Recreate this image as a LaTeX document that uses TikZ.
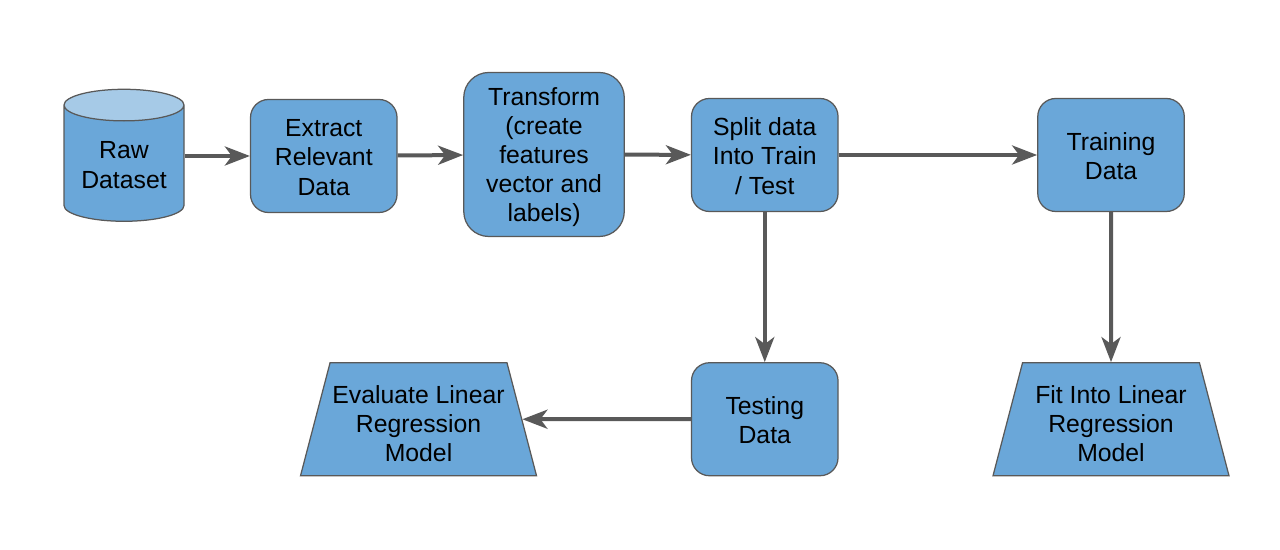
\documentclass[tikz,border=0pt]{standalone}
\usepackage{fontspec}
\setmainfont{Liberation Sans}
\usepackage{xcolor}
\usetikzlibrary{shapes.geometric, arrows.meta, positioning}
\definecolor{boxblue}{HTML}{6AA7D9}
\definecolor{toplight}{HTML}{A6CAE7}
\definecolor{edgegray}{HTML}{595959}
\newcommand{\dropline}[1]{\rule{0pt}{#1pt}}
\tikzset{
  step box/.style={
    rectangle,
    rounded corners=0.36cm,
    draw=edgegray,
    line width=0.025cm,
    fill=boxblue,
    minimum width=2.93cm,
    minimum height=2.26cm,
    inner sep=0pt,
    align=center,
    font=\fontsize{14.1}{16.6}\selectfont
  },
  model box/.style={
    trapezium,
    trapezium left angle=71,
    trapezium right angle=71,
    trapezium stretches body,
    draw=edgegray,
    line width=0.025cm,
    fill=boxblue,
    minimum width=4.72cm,
    minimum height=2.26cm,
    inner sep=0pt,
    align=center,
    font=\fontsize{14.1}{16.6}\selectfont
  },
  data store/.style={
    cylinder,
    shape border rotate=90,
    aspect=0.37,
    cylinder uses custom fill,
    cylinder body fill=boxblue,
    cylinder end fill=toplight,
    draw=edgegray,
    line width=0.025cm,
    minimum width=2.4cm,
    minimum height=2.64cm,
    inner sep=0pt,
    align=center,
    font=\fontsize{14.1}{16.6}\selectfont
  },
  arrow/.style={
    line width=0.08cm,
    edgegray,
    -{Stealth[length=0.5cm, width=0.38cm, inset=0.14cm]}
  }
}
\begin{document}
\begin{tikzpicture}

  \useasboundingbox (0,0) rectangle (25.6,11);

  % TOP ROW
  \node (raw) [data store] at (2.48,7.73) {\dropline{11.5}Raw\\Dataset};
  \node (extract) [step box, right=1.305cm of raw, yshift=0.15cm] {\dropline{11.5}Extract\\Relevant\\Data};
  \node (transform) [step box, right=1.31cm of extract, yshift=0.03cm, minimum width=3.21cm, minimum height=3.28cm, rounded corners=0.5cm] {\dropline{13}Transform\\(create\\features\\vector and\\labels)};
  \node (split) [step box, right=1.32cm of transform, yshift=-0.01cm] {\dropline{11.5}Split data\\Into Train\\/ Test};
  \node (training) [step box, right=3.97cm of split] {\dropline{11.5}Training\\Data};

  % BOTTOM ROW
  \node (testing) [step box, below=3cm of split] {\dropline{11.5}Testing\\Data};
  \node (evaluate) [model box, left=3.37cm of testing] {\dropline{15.5}Evaluate Linear\\Regression\\Model};
  \node (fit) [model box, below=3cm of training] {\dropline{15.5}Fit Into Linear\\Regression\\Model};

  % ARROW CONNECTIONS
  \draw[arrow] (raw.east |- extract.west) -- (extract);
  \draw[arrow] (extract) -- (transform);
  \draw[arrow] (transform) -- (split);
  \draw[arrow] (split) -- (training);
  \draw[arrow] (split) -- (testing);
  \draw[arrow] (training) -- (fit);
  \draw[arrow] (testing) -- (evaluate);

\end{tikzpicture}
\end{document}
